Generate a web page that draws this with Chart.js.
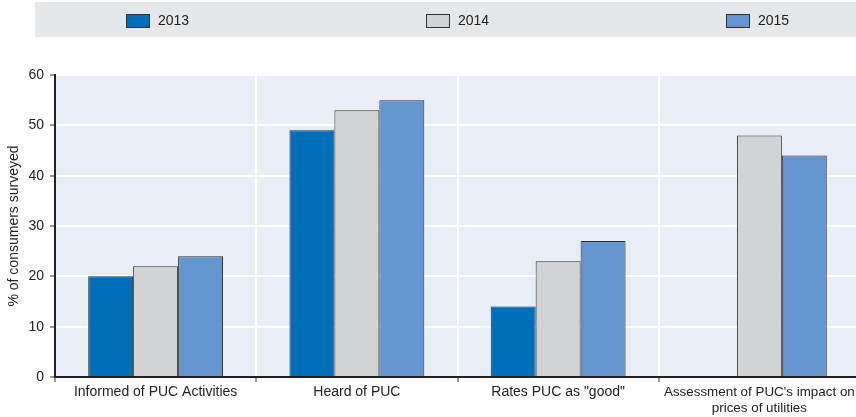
<!DOCTYPE html>
<html>
<head>
<meta charset="utf-8">
<script src="https://cdn.jsdelivr.net/npm/chart.js@4/dist/chart.umd.min.js"></script>
<style>
  html, body { margin: 0; padding: 0; background: #ffffff; overflow: hidden; }
  #wrap { width: 856px; height: 417px; position: relative; overflow: hidden; }
</style>
</head>
<body>
<div id="wrap"><canvas id="c" width="860" height="417"></canvas></div>
<script>
// Survey results on the Public Utilities Commission (PUC)
const categories = [
  "Informed of PUC Activities",
  "Heard of PUC",
  "Rates PUC as \"good\"",
  ["Assessment of PUC's impact on", "prices of utilities"]
];
const years = ["2013", "2014", "2015"];
const values2013 = [20, 49, 14, null];
const values2014 = [22, 53, 23, 48];
const values2015 = [24, 55, 27, 44];
const yTicks = [0, 10, 20, 30, 40, 50, 60];

const colors = ["#006fb9", "#d2d3d5", "#6595cf"];
const FONT = "'Liberation Sans Narrow', 'Arial Narrow', 'Liberation Sans', Arial, sans-serif";

// Light panel behind the plotting area
const plotBackground = {
  id: 'plotBackground',
  beforeDraw(chart) {
    const { ctx, chartArea: a } = chart;
    ctx.save();
    ctx.fillStyle = '#e9edf6';
    ctx.fillRect(a.left, a.top, a.right - a.left, a.bottom - a.top);
    ctx.restore();
  }
};

// Legend drawn as a grey band across the top
const bandLegend = {
  id: 'bandLegend',
  afterDraw(chart) {
    const { ctx } = chart;
    ctx.save();
    ctx.fillStyle = '#e6e7e8';
    ctx.fillRect(35, 2, 825, 35);
    const xs = [126, 426, 726];
    chart.data.datasets.forEach((ds, i) => {
      ctx.fillStyle = ds.backgroundColor;
      ctx.fillRect(xs[i], 14, 24, 14);
      ctx.strokeStyle = '#333333';
      ctx.lineWidth = 1;
      ctx.strokeRect(xs[i] + 0.5, 14.5, 23, 13);
      ctx.fillStyle = '#222222';
      ctx.font = '14px ' + FONT;
      ctx.textBaseline = 'middle';
      ctx.fillText(ds.label, xs[i] + 32, 21.5);
    });
    ctx.restore();
  }
};

new Chart(document.getElementById('c'), {
  type: 'bar',
  data: {
    labels: categories,
    datasets: [
      { label: years[0], data: values2013, backgroundColor: colors[0] },
      { label: years[1], data: values2014, backgroundColor: colors[1] },
      { label: years[2], data: values2015, backgroundColor: colors[2] }
    ].map(d => Object.assign(d, {
      borderColor: '#2e2e2e',
      borderWidth: 1,
      borderSkipped: 'bottom',
      categoryPercentage: 0.67,
      barPercentage: 1.0
    }))
  },
  options: {
    responsive: false,
    animation: false,
    devicePixelRatio: 1,
    layout: { padding: { top: 75, right: 0, left: 0, bottom: 0 } },
    plugins: {
      legend: { display: false },
      tooltip: { enabled: false }
    },
    scales: {
      x: {
        grid: {
          offset: true,
          color: '#ffffff',
          lineWidth: 2,
          drawTicks: true,
          tickLength: 5,
          tickColor: '#333333',
          tickWidth: 1
        },
        border: { color: '#222222', width: 2 },
        ticks: {
          color: '#222222',
          // the long two-line label is set slightly smaller so it fits its slot
          font: c => ({ family: FONT, size: c.index === 3 ? 13.4 : 14 }),
          maxRotation: 0,
          autoSkip: false,
          padding: 2
        },
        afterFit(s) { s.height = 40; }
      },
      y: {
        min: 0,
        max: 60,
        afterBuildTicks(s) { s.ticks = yTicks.map(v => ({ value: v })); },
        grid: {
          color: '#ffffff',
          lineWidth: 2,
          drawTicks: true,
          tickLength: 5,
          tickColor: '#333333',
          tickWidth: 1
        },
        border: { color: '#222222', width: 2 },
        ticks: {
          color: '#222222',
          font: { family: FONT, size: 14 },
          padding: 6
        },
        title: {
          display: true,
          text: '% of consumers surveyed',
          color: '#222222',
          font: { family: FONT, size: 14 },
          padding: { top: 6, bottom: 0 }
        },
        afterFit(s) { s.width = 55; }
      }
    }
  },
  plugins: [plotBackground, bandLegend]
});
</script>
</body>
</html>
